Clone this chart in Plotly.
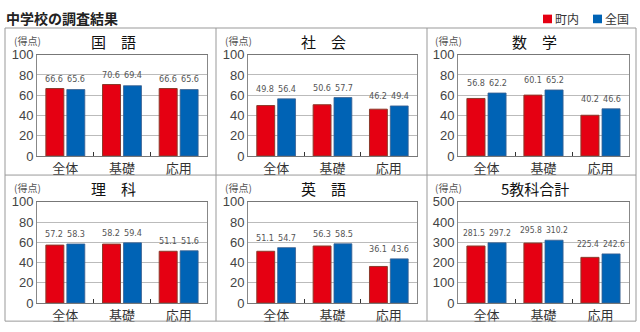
import plotly.graph_objects as go

# Survey results (junior high school): town average vs national average
categories = ["全体", "基礎", "応用"]
subjects = ["国　語", "社　会", "数　学", "理　科", "英　語", "5教科合計"]
town = [
    [66.6, 70.6, 66.6],
    [49.8, 50.6, 46.2],
    [56.8, 60.1, 40.2],
    [57.2, 58.2, 51.1],
    [51.1, 56.3, 36.1],
    [281.5, 295.8, 225.4],
]
national = [
    [65.6, 69.4, 65.6],
    [56.4, 57.7, 49.4],
    [62.2, 65.2, 46.6],
    [58.3, 59.4, 51.6],
    [54.7, 58.5, 43.6],
    [297.2, 310.2, 242.6],
]
y_max = [100, 100, 100, 100, 100, 500]
series_names = ["町内", "全国"]

RED = "#E50012"
BLUE = "#0063B5"
W, H = 640, 332
JP = "Noto Sans CJK JP"
NARROW = "DejaVu Sans Condensed, Liberation Sans, sans-serif"

# pixel layout of the plot areas
col_px = [(37, 207), (248, 417), (458, 629)]
row_px = [(50, 156), (204, 310)]


def px_x(v):
    return v / W


def px_y(v):
    return 1 - v / H


fig = go.Figure()
annotations = []
shapes = []

for i, subj in enumerate(subjects):
    r, c = divmod(i, 3)
    n = i + 1
    xa = f"x{n}" if n > 1 else "x"
    ya = f"y{n}" if n > 1 else "y"
    fig.add_trace(go.Bar(
        x=categories, y=town[i], name=series_names[0], xaxis=xa, yaxis=ya,
        marker=dict(color=RED, line=dict(color="#8B3A2B", width=1)),
        showlegend=False, hoverinfo="y",
    ))
    fig.add_trace(go.Bar(
        x=categories, y=national[i], name=series_names[1], xaxis=xa, yaxis=ya,
        marker=dict(color=BLUE, line=dict(color="#3A5F8F", width=0.8)),
        showlegend=False, hoverinfo="y",
    ))
    x0, x1 = col_px[c]
    y0, y1 = row_px[r]
    key = "" if n == 1 else str(n)
    fig.update_layout(**{
        f"xaxis{key}": dict(
            domain=[px_x(x0), px_x(x1)], anchor=ya,
            showline=True, linecolor="#777", linewidth=1, mirror=True,
            ticks="inside", tickson="boundaries", ticklen=4, tickcolor="#333",
            tickfont=dict(family=JP, size=13, color="#333"),
            showgrid=False, fixedrange=True,
        ),
        f"yaxis{key}": dict(
            domain=[px_y(y1), px_y(y0)], anchor=xa,
            range=[0, y_max[i]], dtick=y_max[i] / 5,
            showline=True, linecolor="#888", linewidth=1, mirror=True,
            gridcolor="#BBBBBB", gridwidth=1, zeroline=False,
            ticks="", tickfont=dict(family="Liberation Sans, sans-serif", size=13, color="#444"),
            fixedrange=True,
        ),
    })
    # value labels above each group; longer numbers get a little more room
    for j, cat in enumerate(categories):
        top = max(town[i][j], national[i][j])
        for val, sign in ((town[i][j], -1), (national[i][j], 1)):
            text = f"{val:.1f}"
            wide = len(text) > 4
            annotations.append(dict(
                x=cat, y=top, xref=xa, yref=ya, text=text,
                showarrow=False, xshift=sign * (13 if wide else 11), yshift=3,
                yanchor="bottom",
                font=dict(family=NARROW, size=8.5 if wide else 9, color="#555"),
            ))
    # panel title and unit label
    cx = (x0 + x1) / 2 - 9
    annotations.append(dict(
        x=px_x(cx), y=px_y(y0 - 14), xref="paper", yref="paper",
        text=subj, showarrow=False, xanchor="center", yanchor="middle",
        font=dict(family=JP, size=15, color="#111"),
    ))
    annotations.append(dict(
        x=px_x(x0 - 10), y=px_y(y0 - 15), xref="paper", yref="paper",
        text="(得点)", showarrow=False, xanchor="center", yanchor="middle",
        font=dict(family=JP, size=10, color="#555"),
    ))

# panel frames
line_style = dict(color="#999", width=1)
shapes.append(dict(type="rect", xref="paper", yref="paper",
                   x0=px_x(5), x1=px_x(636), y0=px_y(329), y1=px_y(22), line=line_style))
for vx in (216, 427):
    shapes.append(dict(type="line", xref="paper", yref="paper",
                       x0=px_x(vx), x1=px_x(vx), y0=px_y(329), y1=px_y(22), line=line_style))
shapes.append(dict(type="line", xref="paper", yref="paper",
                   x0=px_x(5), x1=px_x(636), y0=px_y(176), y1=px_y(176), line=line_style))

# legend keys
for name, color, lx in ((series_names[0], RED, 543), (series_names[1], BLUE, 593)):
    shapes.append(dict(type="rect", xref="paper", yref="paper",
                       x0=px_x(lx), x1=px_x(lx + 9), y0=px_y(17), y1=px_y(8),
                       fillcolor=color, line=dict(width=0)))
    annotations.append(dict(
        x=px_x(lx + 10), y=px_y(12.5), xref="paper", yref="paper", text=name,
        showarrow=False, xanchor="left", yanchor="middle",
        font=dict(family=JP, size=12, color="#333"),
    ))

# chart title
annotations.append(dict(
    x=px_x(4), y=px_y(12), xref="paper", yref="paper", text="中学校の調査結果",
    showarrow=False, xanchor="left", yanchor="middle",
    font=dict(family=JP, size=14, color="#222", weight=600),
))

fig.update_layout(
    width=W, height=H, margin=dict(l=0, r=0, t=0, b=0),
    paper_bgcolor="white", plot_bgcolor="white",
    barmode="group", bargap=0.26, bargroupgap=0.143,
    annotations=annotations, shapes=shapes, showlegend=False,
)

fig.write_html("out.html")
